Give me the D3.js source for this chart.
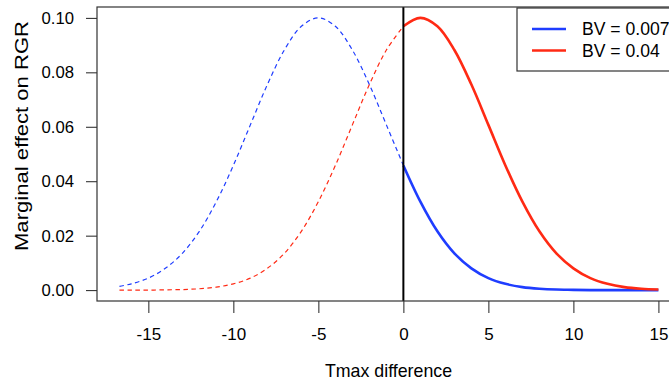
<!DOCTYPE html>
<html>
<head>
<meta charset="utf-8">
<script src="https://cdn.jsdelivr.net/npm/d3@7"></script>
<style>
  body { margin: 0; background: #fff; }
  svg text { font-family: "Liberation Sans", Arial, sans-serif; fill: #000; }
</style>
</head>
<body>
<svg id="chart" width="669" height="388"></svg>
<script>
// x positions (Tmax difference) where the curves were read
const tmax = [-16.7, -16, -15, -14, -13, -12, -11, -10, -9, -8, -7, -6, -5, -4, -3, -2, -1,
  0, 1, 2, 3, 4, 5, 6, 7, 8, 9, 10, 11, 12, 13, 14, 15];
// BV = 0.007 (blue)
const bvLow = [0.0014, 0.0023, 0.0044, 0.0080, 0.0135, 0.0216, 0.0325, 0.0458, 0.0607, 0.0755, 0.0882, 0.0969, 0.1000, 0.0969, 0.0882, 0.0755, 0.0607,
  0.0458, 0.0325, 0.0216, 0.0135, 0.0080, 0.0044, 0.0023, 0.0011, 0.0005, 0.0002, 0.0001, 0.0000, 0.0000, 0.0000, 0.0000, 0.0000];
// BV = 0.04 (red)
const bvHigh = [0.0000, 0.0000, 0.0000, 0.0001, 0.0002, 0.0005, 0.0011, 0.0023, 0.0044, 0.0080, 0.0135, 0.0216, 0.0325, 0.0458, 0.0607, 0.0755, 0.0882,
  0.0969, 0.1000, 0.0969, 0.0882, 0.0755, 0.0607, 0.0458, 0.0325, 0.0216, 0.0135, 0.0080, 0.0044, 0.0023, 0.0011, 0.0005, 0.0002];
const xTicks = [-15, -10, -5, 0, 5, 10, 15];
const yTicks = [0, 0.02, 0.04, 0.06, 0.08, 0.10];
const seriesNames = ["BV = 0.007", "BV = 0.04"];
const seriesColors = ["#1f3dff", "#ff2a14"];

const svg = d3.select("#chart");
const mLeft = 97, mRight = 680, mTop = 7, mBottom = 301;

const x = d3.scaleLinear().domain([-18.02, 16.27]).range([mLeft, mRight]);
const y = d3.scaleLinear().domain([-0.004, 0.104]).range([mBottom, mTop]);

// x axis
const xAxis = svg.append("g")
  .attr("transform", "translate(0," + mBottom + ")")
  .call(d3.axisBottom(x).tickValues(xTicks).tickSize(12).tickPadding(15));
xAxis.select(".domain").remove();
xAxis.selectAll("line").attr("stroke", "#222");
xAxis.selectAll("text").style("font-size", "17px")
  .text(d => d < 0 ? "-" + Math.abs(d) : d);   // plain hyphen like R

// y axis
const yAxis = svg.append("g")
  .attr("transform", "translate(" + mLeft + ",0)")
  .call(d3.axisLeft(y).tickValues(yTicks).tickSize(11).tickPadding(12).tickFormat(d3.format(".2f")));
yAxis.select(".domain").remove();
yAxis.selectAll("line").attr("stroke", "#222");
yAxis.selectAll("text").style("font-size", "16.7px");

// titles
svg.append("text")
  .attr("x", (mLeft + mRight) / 2).attr("y", 377)
  .attr("text-anchor", "middle")
  .style("font-size", "17.8px")
  .text("Tmax difference");

svg.append("text")
  .attr("transform", "translate(28,136) rotate(-90)")
  .attr("text-anchor", "middle")
  .attr("textLength", 230).attr("lengthAdjust", "spacingAndGlyphs")
  .style("font-size", "18px")
  .text("Marginal effect on RGR");

// curves: dashed for x < 0, solid for x >= 0
const rows = tmax.map((t, i) => ({ t: t, v: [bvLow[i], bvHigh[i]] }));
svg.append("clipPath").attr("id", "plotclip")
  .append("rect").attr("x", mLeft).attr("y", mTop).attr("width", mRight - mLeft).attr("height", mBottom - mTop);

[0, 1].forEach(s => {
  const line = d3.line()
    .x(d => x(d.t))
    .y(d => y(d.v[s]))
    .curve(d3.curveCatmullRom);
  svg.append("path")
    .attr("d", line(rows.filter(d => d.t <= 0)))
    .attr("fill", "none")
    .attr("stroke", seriesColors[s])
    .attr("stroke-width", 1.2)
    .attr("stroke-dasharray", "4.5,3.5")
    .attr("clip-path", "url(#plotclip)");
  svg.append("path")
    .attr("d", line(rows.filter(d => d.t >= 0)))
    .attr("fill", "none")
    .attr("stroke", seriesColors[s])
    .attr("stroke-width", 2.6)
    .attr("clip-path", "url(#plotclip)");
});

// vertical line at 0
svg.append("line")
  .attr("x1", x(0)).attr("x2", x(0))
  .attr("y1", mTop).attr("y2", mBottom)
  .attr("stroke", "#000").attr("stroke-width", 2);

// plot box
svg.append("rect")
  .attr("x", mLeft).attr("y", mTop)
  .attr("width", mRight - mLeft).attr("height", mBottom - mTop)
  .attr("fill", "none").attr("stroke", "#333").attr("stroke-width", 1.2);

// legend
const legend = svg.append("g");
legend.append("rect")
  .attr("x", 517).attr("y", mTop + 1).attr("width", 200).attr("height", 63)
  .attr("fill", "#fff").attr("stroke", "#333").attr("stroke-width", 1.2);
seriesNames.forEach((name, i) => {
  const ly = 29 + i * 21.5;
  legend.append("line")
    .attr("x1", 532).attr("x2", 566).attr("y1", ly).attr("y2", ly)
    .attr("stroke", seriesColors[i]).attr("stroke-width", 2.6);
  legend.append("text")
    .attr("x", 582).attr("y", ly).attr("dy", "0.36em")
    .style("font-size", "17.6px")
    .text(name);
});
</script>
</body>
</html>
